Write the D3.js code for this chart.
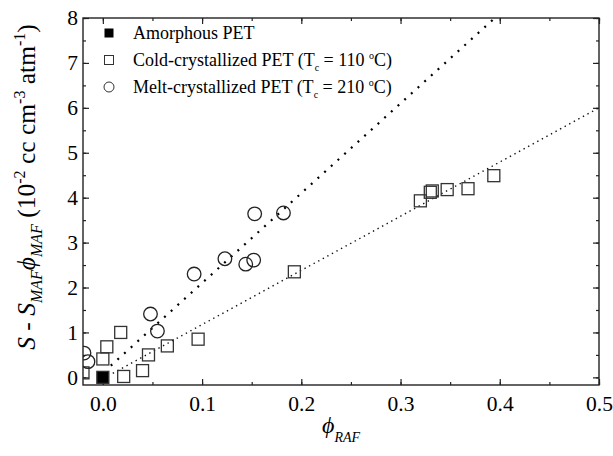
<!DOCTYPE html>
<html><head><meta charset="utf-8">
<script src="https://cdn.jsdelivr.net/npm/d3@7"></script>
<style>body{margin:0;background:#fff}svg{display:block}</style>
</head><body><svg id="c" width="613" height="456" font-family="'Liberation Serif', 'Times New Roman', serif"></svg>
<script>
// Data
const amorphousX = [0.0];
const amorphousY = [0.0];
const coldX = [-0.02, 0.000, 0.004, 0.018, 0.021, 0.040, 0.046, 0.065, 0.096, 0.193, 0.320, 0.330, 0.332, 0.347, 0.368, 0.394];
const coldY = [0.10, 0.41, 0.68, 1.00, 0.02, 0.15, 0.50, 0.70, 0.85, 2.35, 3.93, 4.12, 4.15, 4.18, 4.20, 4.49];
const meltX = [-0.019, -0.015, 0.048, 0.055, 0.092, 0.123, 0.144, 0.152, 0.153, 0.182];
const meltY = [0.54, 0.35, 1.41, 1.03, 2.30, 2.64, 2.52, 2.61, 3.64, 3.66];
const fitMeltX = [0.008, 0.395];
const fitMeltY = [0.26, 8.0];
const fitColdX = [0.01, 0.5];
const fitColdY = [0.09, 6.0];
const xTicks = [0, 0.1, 0.2, 0.3, 0.4, 0.5];
const yTicks = [0, 1, 2, 3, 4, 5, 6, 7, 8];
const legendLabels = ["Amorphous PET", "Cold-crystallized PET", "Melt-crystallized PET"];

const FF = "'Liberation Serif', 'Times New Roman', serif";
const svg = d3.select("#c");
const L = 83, R = 599, T = 18, B = 385;
const x = d3.scaleLinear().domain([-0.02, 0.5]).range([L, R]);
const y = d3.scaleLinear().domain([-0.17, 8]).range([B, T]);

const xMinor = d3.range(0, 0.501, 0.05);
const yMinor = d3.range(0, 8.01, 0.5);

function clean(s){ s.attr("font-family", null).attr("font-size", null); s.select(".domain").remove(); }

function axes(){
  const g = svg.append("g");
  g.append("g").attr("transform", `translate(0,${B})`)
    .call(d3.axisBottom(x).tickValues(xMinor).tickSize(-3).tickFormat("")).call(clean);
  g.append("g").attr("transform", `translate(0,${B})`)
    .call(d3.axisBottom(x).tickValues(xTicks).tickSize(-6).tickFormat(d3.format(".1f"))).call(clean)
    .call(s => s.selectAll("text").attr("y", 11).attr("font-size", 21.5).attr("font-family", FF).attr("dy", "0.71em"));
  g.append("g").attr("transform", `translate(0,${T})`)
    .call(d3.axisTop(x).tickValues(xMinor).tickSize(-3).tickFormat("")).call(clean);
  g.append("g").attr("transform", `translate(0,${T})`)
    .call(d3.axisTop(x).tickValues(xTicks).tickSize(-6).tickFormat("")).call(clean);
  g.append("g").attr("transform", `translate(${L},0)`)
    .call(d3.axisLeft(y).tickValues(yMinor).tickSize(-3).tickFormat("")).call(clean);
  g.append("g").attr("transform", `translate(${L},0)`)
    .call(d3.axisLeft(y).tickValues(yTicks).tickSize(-6).tickFormat(d3.format("d"))).call(clean)
    .call(s => s.selectAll("text").attr("x", -5).attr("font-size", 21.5).attr("font-family", FF).attr("dy", "0.32em"));
  g.append("g").attr("transform", `translate(${R},0)`)
    .call(d3.axisRight(y).tickValues(yMinor).tickSize(-3).tickFormat("")).call(clean);
  g.append("g").attr("transform", `translate(${R},0)`)
    .call(d3.axisRight(y).tickValues(yTicks).tickSize(-6).tickFormat("")).call(clean);
  g.selectAll("line").attr("stroke", "#222").attr("stroke-width", 1.2);
  g.append("rect").attr("x", L).attr("y", T).attr("width", R - L).attr("height", B - T)
    .attr("fill", "none").attr("stroke", "#222").attr("stroke-width", 1.4);
}
axes();

svg.append("clipPath").attr("id", "clip").append("rect")
  .attr("x", L).attr("y", T).attr("width", R - L).attr("height", B - T);

const line = d3.line().x(d => x(d[0])).y(d => y(d[1]));
const plot = svg.append("g").attr("clip-path", "url(#clip)");
plot.append("path").datum(d3.zip(fitMeltX, fitMeltY)).attr("d", line)
  .attr("fill", "none").attr("stroke", "#000").attr("stroke-width", 2.2)
  .attr("stroke-dasharray", "2,7");
plot.append("path").datum(d3.zip(fitColdX, fitColdY)).attr("d", line)
  .attr("fill", "none").attr("stroke", "#111").attr("stroke-width", 1.4)
  .attr("stroke-dasharray", "1.4,3.8");

const S = 12;
plot.selectAll(".cold").data(d3.zip(coldX, coldY)).join("rect")
  .attr("x", d => x(d[0]) - S/2).attr("y", d => y(d[1]) - S/2)
  .attr("width", S).attr("height", S)
  .attr("fill", "none").attr("stroke", "#333").attr("stroke-width", 1.3);
plot.selectAll(".melt").data(d3.zip(meltX, meltY)).join("circle")
  .attr("cx", d => x(d[0])).attr("cy", d => y(d[1])).attr("r", 6.8)
  .attr("fill", "none").attr("stroke", "#222").attr("stroke-width", 1.3);
plot.selectAll(".amo").data(d3.zip(amorphousX, amorphousY)).join("rect")
  .attr("x", d => x(d[0]) - S/2).attr("y", d => y(d[1]) - S/2)
  .attr("width", S).attr("height", S)
  .attr("fill", "#000").attr("stroke", "#333").attr("stroke-width", 1.3);

// legend
const lg = svg.append("g").attr("font-family", FF);
const ly = [33, 60, 87];
const lx = 109, tx = 133, fs = 18;
lg.append("rect").attr("x", lx - 4.5).attr("y", ly[0] - 4.5).attr("width", 9).attr("height", 9).attr("fill", "#000");
lg.append("rect").attr("x", lx - 4.5).attr("y", ly[1] - 4.5).attr("width", 9).attr("height", 9).attr("fill", "none").attr("stroke", "#333").attr("stroke-width", 1);
lg.append("circle").attr("cx", lx).attr("cy", ly[2]).attr("r", 5).attr("fill", "none").attr("stroke", "#333").attr("stroke-width", 1);
lg.append("text").attr("x", tx).attr("y", ly[0]).attr("dy", "0.35em").attr("font-size", fs).text(legendLabels[0]);
function tcLabel(i, lab, temp){
  const t = lg.append("text").attr("x", tx).attr("y", ly[i]).attr("dy", "0.35em").attr("font-size", fs);
  t.append("tspan").text(lab + " (T");
  t.append("tspan").attr("font-size", 10).attr("dy", 5).text("c");
  t.append("tspan").attr("dy", -5).text(" = " + temp + " ");
  t.append("tspan").attr("font-size", 10).attr("dy", -7).text("o");
  t.append("tspan").attr("dy", 7).text("C)");
}
tcLabel(1, legendLabels[1], 110);
tcLabel(2, legendLabels[2], 210);

// x label
const xl = svg.append("text").attr("x", 341).attr("y", 433).attr("text-anchor", "middle")
  .attr("font-size", 24).attr("font-family", FF);
xl.append("tspan").attr("font-style", "italic").text("ϕ");
xl.append("tspan").attr("font-size", 14).attr("font-style", "italic").attr("dy", 9).text("RAF");

// y label
const yl = svg.append("text").attr("transform", "translate(35,187) rotate(-90)")
  .attr("text-anchor", "middle").attr("font-size", 25.5).attr("font-family", FF);
yl.append("tspan").attr("font-style", "italic").text("S");
yl.append("tspan").text(" - ");
yl.append("tspan").attr("font-style", "italic").text("S");
yl.append("tspan").attr("font-size", 16).attr("font-style", "italic").attr("dy", 7).text("MAF");
yl.append("tspan").attr("dy", -7).attr("font-style", "italic").text("ϕ");
yl.append("tspan").attr("font-size", 16).attr("font-style", "italic").attr("dy", 7).text("MAF");
yl.append("tspan").attr("dy", -7).text(" (10");
yl.append("tspan").attr("font-size", 16).attr("dy", -10).text("-2");
yl.append("tspan").attr("dy", 10).text(" cc cm");
yl.append("tspan").attr("font-size", 16).attr("dy", -10).text("-3");
yl.append("tspan").attr("dy", 10).text(" atm");
yl.append("tspan").attr("font-size", 16).attr("dy", -10).text("-1");
yl.append("tspan").attr("dy", 10).text(")");
</script></body></html>
